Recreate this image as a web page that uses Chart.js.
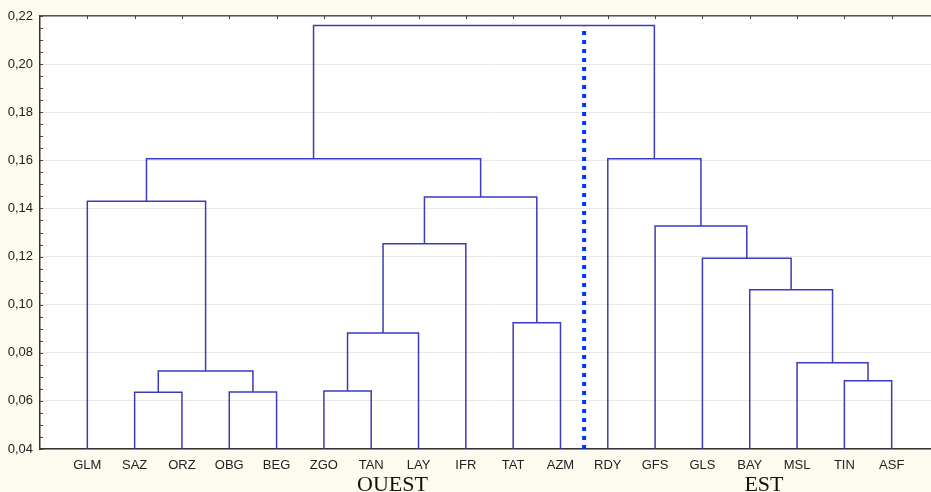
<!DOCTYPE html>
<html>
<head>
<meta charset="utf-8">
<script src="https://cdn.jsdelivr.net/npm/chart.js@4/dist/chart.umd.min.js"></script>
<style>
    html, body { margin: 0; padding: 0; background: #fdfaf0; overflow: hidden; }
    canvas { display: block; }
</style>
</head>
<body>
<canvas id="dendro" width="939" height="492"></canvas>
<script>
// Leaves of the tree, left to right
const leaves = ['GLM', 'SAZ', 'ORZ', 'OBG', 'BEG', 'ZGO', 'TAN', 'LAY', 'IFR',
                'TAT', 'AZM', 'RDY', 'GFS', 'GLS', 'BAY', 'MSL', 'TIN', 'ASF'];

// Merges: a value >= 0 is a leaf index, a value < 0 is -(merge number, 1-based)
const mergeLeft   = [1, 3, 5, 16, -1, 15, -3, 9, 14, 13, -7, 12, 0, -11, -13, 11, -15];
const mergeRight  = [2, 4, 6, 17, -2, -4, 7, 10, -6, -9, 8, -10, -5, -8, -14, -12, -16];
const mergeHeight = [0.0636, 0.0637, 0.0641, 0.0684, 0.0724, 0.0759, 0.0882, 0.0925, 0.1062,
                     0.1193, 0.1253, 0.1327, 0.1430, 0.1448, 0.1607, 0.1607, 0.2160];

// Cut line between the two groups
const cutBetween = ['AZM', 'RDY'];
const cutHeight = 0.216;

// Group names under the axis
const groupLabels = ['OUEST', 'EST'];
const groupCenters = [7.45, 15.3];

const yMin = 0.04, yMax = 0.22;

// Build datasets (one U-shape per merge)
const nodeX = [], nodeY = [];
function pos(id) {
    if (id >= 0) return { x: id + 1, y: yMin };
    return { x: nodeX[-id - 1], y: nodeY[-id - 1] };
}
const datasets = [];
mergeHeight.forEach((h, i) => {
    const a = pos(mergeLeft[i]);
    const b = pos(mergeRight[i]);
    nodeX[i] = (a.x + b.x) / 2;
    nodeY[i] = h;
    datasets.push({
        data: [{ x: a.x, y: a.y }, { x: a.x, y: h }, { x: b.x, y: h }, { x: b.x, y: b.y }],
        borderColor: '#3b3bbd',
        borderWidth: 1.5,
        pointRadius: 0,
        tension: 0,
        fill: false,
        order: 1
    });
});

const cutX = (leaves.indexOf(cutBetween[0]) + leaves.indexOf(cutBetween[1])) / 2 + 1;
datasets.push({
    data: [{ x: cutX, y: yMin }, { x: cutX, y: cutHeight }],
    borderColor: '#0033ff',
    borderWidth: 4,
    borderDash: [4, 5],
    borderCapStyle: 'butt',
    pointRadius: 0,
    fill: false,
    order: 0
});

// Background: cream page, white plot area
const backgroundPlugin = {
    id: 'background',
    beforeDraw(chart) {
        const { ctx, chartArea } = chart;
        ctx.save();
        ctx.fillStyle = '#fdfaf0';
        ctx.fillRect(0, 0, chart.width, chart.height);
        ctx.fillStyle = '#ffffff';
        ctx.fillRect(chartArea.left, chartArea.top, chartArea.right - chartArea.left, chartArea.bottom - chartArea.top);
        ctx.restore();
    }
};

// Small inner tick marks and the group names
const extrasPlugin = {
    id: 'extras',
    afterDraw(chart) {
        const { ctx, chartArea } = chart;
        const xs = chart.scales.x;
        const ys = chart.scales.y;
        ctx.save();
        ctx.strokeStyle = '#444';
        ctx.lineWidth = 1;
        ctx.beginPath();
        ys.ticks.forEach(t => {
            const py = Math.round(ys.getPixelForValue(t.value)) + 0.5;
            ctx.moveTo(chartArea.left, py);
            ctx.lineTo(chartArea.left + 3, py);
        });
        leaves.forEach((l, i) => {
            const px = Math.round(xs.getPixelForValue(i + 1)) + 0.5;
            ctx.moveTo(px, chartArea.top);
            ctx.lineTo(px, chartArea.top + 3);
        });
        ctx.stroke();

        ctx.fillStyle = '#111';
        ctx.font = '22px "Liberation Serif", "DejaVu Serif", serif';
        ctx.textAlign = 'center';
        ctx.textBaseline = 'alphabetic';
        groupLabels.forEach((g, i) => {
            ctx.fillText(g, xs.getPixelForValue(groupCenters[i]), 491);
        });
        ctx.restore();
    }
};

const isMajor = v => Math.round(v * 1000) % 20 === 0;

new Chart(document.getElementById('dendro'), {
    type: 'line',
    data: { datasets: datasets },
    plugins: [backgroundPlugin, extrasPlugin],
    options: {
        responsive: false,
        animation: false,
        devicePixelRatio: 1,
        layout: { padding: 0 },
        plugins: {
            legend: { display: false },
            tooltip: { enabled: false }
        },
        scales: {
            x: {
                type: 'linear',
                position: 'bottom',
                min: 0,
                max: leaves.length + 1,
                afterFit(scale) { scale.height = 43; },
                afterBuildTicks(scale) {
                    scale.ticks = leaves.map((l, i) => ({ value: i + 1 }));
                },
                ticks: {
                    autoSkip: false,
                    maxRotation: 0,
                    padding: 9,
                    color: '#222',
                    font: { family: '"Liberation Sans", Arial, sans-serif', size: 13 },
                    callback: (v) => leaves[v - 1] || ''
                },
                grid: { display: false, drawTicks: false },
                border: { display: true, color: '#333', width: 1.5 }
            },
            x2: {
                type: 'linear',
                position: 'top',
                min: 0,
                max: leaves.length + 1,
                afterFit(scale) { scale.height = 16; },
                ticks: { display: false },
                grid: { display: false, drawTicks: false },
                border: { display: true, color: '#555', width: 1.5 }
            },
            y: {
                type: 'linear',
                min: yMin,
                max: yMax,
                afterFit(scale) { scale.width = 40; },
                ticks: {
                    stepSize: 0.005,
                    autoSkip: false,
                    padding: 7,
                    color: '#222',
                    font: { family: '"Liberation Sans", Arial, sans-serif', size: 13 },
                    callback: (v) => isMajor(v) ? v.toFixed(2).replace('.', ',') : ''
                },
                grid: {
                    drawTicks: false,
                    color: (c) => (c.tick && isMajor(c.tick.value)) ? '#e8e8e8' : 'rgba(0,0,0,0)',
                    lineWidth: 1
                },
                border: { display: true, color: '#333', width: 1.5 }
            }
        }
    }
});
</script>
</body>
</html>
